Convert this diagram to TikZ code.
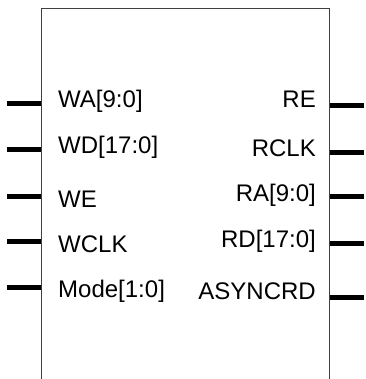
\documentclass[tikz,border=0pt]{standalone}
\usepackage{fontspec}
\setmainfont{Liberation Sans}
\definecolor{boxgray}{HTML}{404040}
\tikzset{
  pin/.style={line width=5pt},
  lbl/.style={inner sep=0pt, font=\fontsize{24}{28}\selectfont}
}
\begin{document}
\begin{tikzpicture}[x=1pt, y=-1pt]
    % Khung hình
    \clip (0,0) rectangle (365,379);

    % Khối bộ nhớ
    \node[draw=boxgray, line width=1.3pt, inner sep=0pt, anchor=north west,
          minimum width=288pt, minimum height=420pt] (mem) at (41,8) {};

    % Chân bên trái
    \foreach \lab/\py/\ty [count=\i] in {{WA[9:0]}/104/108, {WD[17:0]}/150/154,
        WE/196/207, WCLK/241/252, {Mode[1:0]}/287/297} {
        \coordinate (win\i) at (7,\py);
        \draw[pin] (win\i) -- (win\i -| mem.west);
        \node[lbl, anchor=base west] (wl\i) at (58,\ty) {\lab};
    }

    % Chân bên phải
    \foreach \lab/\py/\ty [count=\i] in {RE/106/108, RCLK/153/157,
        {RA[9:0]}/196/201, {RD[17:0]}/243/247, ASYNCRD/297/299} {
        \coordinate (rout\i) at (364,\py);
        \draw[pin] (rout\i -| mem.east) -- (rout\i);
        \node[lbl, anchor=base east] (rl\i) at (316,\ty) {\lab};
    }

\end{tikzpicture}
\end{document}
